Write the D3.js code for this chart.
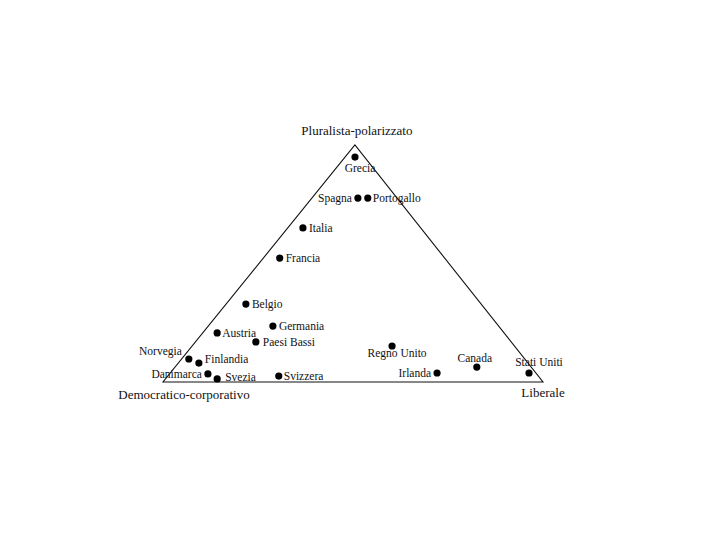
<!DOCTYPE html>
<html><head><meta charset="utf-8">
<script src="https://cdn.jsdelivr.net/npm/d3@7"></script>
<style>
html,body{margin:0;padding:0;background:#fff;}
svg text{font-family:"Liberation Serif","DejaVu Serif",serif;fill:#111;}
</style></head>
<body>
<svg id="chart" width="720" height="540"></svg>
<script>
// Paesi: quote nei tre modelli, in %
const countries = ["Grecia","Spagna","Portogallo","Italia","Francia","Belgio","Austria","Germania","Paesi Bassi",
  "Norvegia","Finlandia","Danimarca","Svezia","Svizzera","Regno Unito","Irlanda","Canada","Stati Uniti"];
const democraticoCorporativo = [2.5,10.3,7.7,31.0,43.4,61.9,75.5,59.4,67.2,88.4,86.6,86.5,85.1,68.3,32.2,26.0,14.3,1.8];
const liberale =               [2.6,12.1,14.7,4.0,4.3,5.2,3.8,17.0,15.9,1.9,5.4,10.1,13.6,29.2,52.6,70.2,79.4,94.4];
const pluralistaPolarizzato =  [94.9,77.6,77.6,65.0,52.3,32.9,20.7,23.6,16.9,9.7,8.0,3.4,1.3,2.5,15.2,3.8,6.3,3.8];
const vertexLabels = ["Democratico-corporativo","Liberale","Pluralista-polarizzato"];

// Layout (style): label placement per country
const labelPlace = {
  "Grecia":[5,15,"middle"], "Spagna":[-6,4,"end"], "Portogallo":[5,4,"start"], "Italia":[6,4,"start"],
  "Francia":[6,4,"start"], "Belgio":[6,4,"start"], "Austria":[5,4,"start"], "Germania":[6,4,"start"],
  "Paesi Bassi":[7,4,"start"], "Norvegia":[-7,-4,"end"], "Finlandia":[6,0,"start"], "Danimarca":[-6,4,"end"],
  "Svezia":[8,2,"start"], "Svizzera":[5,4,"start"], "Regno Unito":[5,11,"middle"], "Irlanda":[-6,4,"end"],
  "Canada":[-2,-5,"middle"], "Stati Uniti":[10,-7,"middle"]
};

const apexFrac = 0.505;
const x = d3.scaleLinear().domain([0,1]).range([163,543]);
const y = d3.scaleLinear().domain([0,1]).range([382,145]);
const proj = (a,b,c) => { const s=a+b+c; return [x(b/s + apexFrac*c/s), y(c/s)]; };

const svg = d3.select("#chart");
const corners = [proj(100,0,0), proj(0,100,0), proj(0,0,100)];
svg.append("path")
  .attr("d", d3.line()(corners) + "Z")
  .attr("fill","none").attr("stroke","#111").attr("stroke-width",1.1);

// vertex labels
svg.append("text").attr("x",corners[0][0]+21).attr("y",corners[0][1]+17)
  .attr("text-anchor","middle").attr("font-size",13).text(vertexLabels[0]);
svg.append("text").attr("x",corners[1][0]).attr("y",corners[1][1]+15)
  .attr("text-anchor","middle").attr("font-size",13).text(vertexLabels[1]);
svg.append("text").attr("x",corners[2][0]+2).attr("y",corners[2][1]-10)
  .attr("text-anchor","middle").attr("font-size",13).text(vertexLabels[2]);

const data = countries.map((n,i)=>({name:n, p:proj(democraticoCorporativo[i], liberale[i], pluralistaPolarizzato[i])}));
const g = svg.append("g");
g.selectAll("circle").data(data).join("circle")
  .attr("cx",d=>d.p[0]).attr("cy",d=>d.p[1]).attr("r",3.6).attr("fill","#000");
g.selectAll("text").data(data).join("text")
  .attr("x",d=>d.p[0]+labelPlace[d.name][0])
  .attr("y",d=>d.p[1]+labelPlace[d.name][1])
  .attr("text-anchor",d=>labelPlace[d.name][2])
  .attr("font-size",11.5)
  .text(d=>d.name);
</script>
</body></html>
